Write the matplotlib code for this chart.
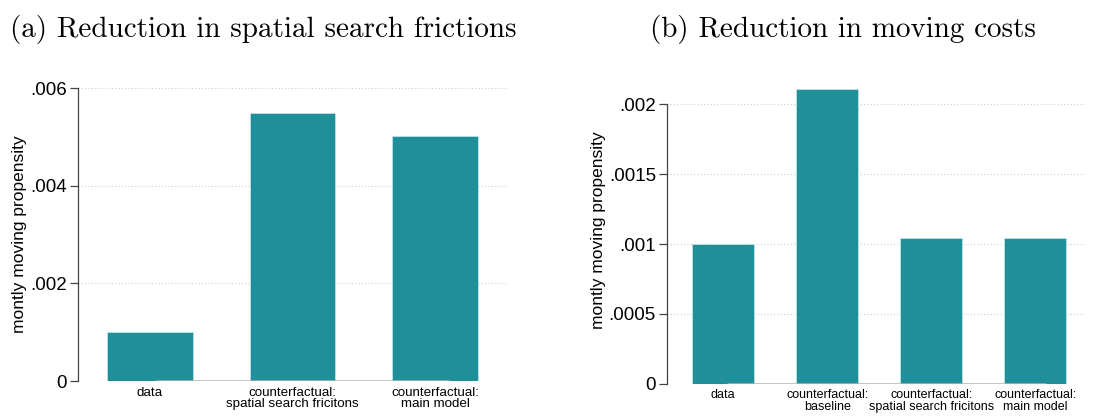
import matplotlib
matplotlib.use("Agg")
import matplotlib.pyplot as plt

# panel (a): spatial search frictions
cats_a = ["data", "counterfactual:\nspatial search fricitons", "counterfactual:\nmain model"]
vals_a = [0.0010, 0.00549, 0.00502]
ticks_a = [0, 0.002, 0.004, 0.006]
ticklabels_a = ["0", ".002", ".004", ".006"]

# panel (b): moving costs
cats_b = ["data", "counterfactual:\nbaseline", "counterfactual:\nspatial search fricitons",
          "counterfactual:\nmain model"]
vals_b = [0.0010, 0.00211, 0.00104, 0.00104]
ticks_b = [0, 0.0005, 0.001, 0.0015, 0.002]
ticklabels_b = ["0", ".0005", ".001", ".0015", ".002"]

plt.rcParams["font.family"] = ["Liberation Sans", "DejaVu Sans"]

BAR = "#1f9099"
GRID = "#cfcfcf"


def panel(ax, cats, vals, ticks, labels, xlim, ylim, xfs):
    x = list(range(len(cats)))
    ax.bar(x, vals, width=0.6, color=BAR, edgecolor="#bfe3e6", linewidth=0.6, zorder=3)
    # light baseline under the bars
    ax.plot([0.04, len(cats) - 0.9], [0, 0], color="#b4b4b4", lw=1.8, zorder=4,
            solid_capstyle="butt")
    ax.set_xlim(*xlim)
    ax.set_ylim(*ylim)
    ax.set_yticks(ticks)
    ax.set_yticklabels(labels, fontsize=13.5)
    ax.set_xticks(x)
    ax.set_xticklabels(cats, fontsize=xfs, linespacing=0.95)
    ax.tick_params(axis="x", length=0, pad=4)
    ax.tick_params(axis="y", length=6, width=0.9, color="#444444", pad=2)
    for y in ticks:
        ax.axhline(y, color=GRID, lw=0.8, ls=(0, (1, 2)), zorder=1)
    for s in ["top", "right", "bottom"]:
        ax.spines[s].set_visible(False)
    ax.spines["left"].set_color("#444444")
    ax.spines["left"].set_linewidth(0.9)
    ax.spines["left"].set_bounds(ticks[0], ticks[-1])
    ax.set_ylabel("montly moving propensity", fontsize=12.5, labelpad=2)


fig = plt.figure(figsize=(10.94, 4.16), dpi=100)
ax1 = fig.add_axes([0.0713, 0.0841, 0.3921, 0.7043])
ax2 = fig.add_axes([0.6097, 0.0776, 0.3820, 0.7387])

panel(ax1, cats_a, vals_a, ticks_a, ticklabels_a, (-0.505, 2.505), (0, 0.006), 9.6)
panel(ax2, cats_b, vals_b, ticks_b, ticklabels_b, (-0.541, 3.478), (0, 0.0022), 9)

fig.text(0.0091, 0.91, "(a) Reduction in spatial search frictions",
         fontfamily="cmr10", fontsize=21, ha="left", va="baseline")
fig.text(0.594, 0.91, "(b) Reduction in moving costs",
         fontfamily="cmr10", fontsize=21, ha="left", va="baseline")

fig.savefig("out.png", dpi=100)
